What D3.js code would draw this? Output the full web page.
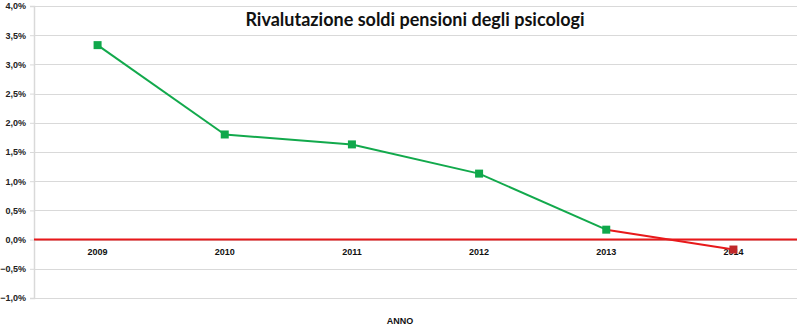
<!DOCTYPE html>
<html>
<head>
<meta charset="utf-8">
<script src="https://cdn.jsdelivr.net/npm/d3@7"></script>
<style>
  html, body { margin: 0; padding: 0; background: #fff; }
  svg { display: block; }
</style>
</head>
<body>
<svg id="chart" width="800" height="331"></svg>
<script>
// Yearly revaluation rate of psychologists' pensions (percent)
const years = ["2009", "2010", "2011", "2012", "2013", "2014"];
const rates = [3.33, 1.80, 1.63, 1.13, 0.17, -0.17];
const yTicks = [-1.0, -0.5, 0.0, 0.5, 1.0, 1.5, 2.0, 2.5, 3.0, 3.5, 4.0];
const titleText = "Rivalutazione soldi pensioni degli psicologi";
const axisTitle = "ANNO";

const W = 800, H = 331;
const margin = { top: 6, right: 3, bottom: 33, left: 34 };

const svg = d3.select("#chart");

const x = d3.scaleBand()
  .domain(years)
  .range([margin.left, W - margin.right]);

const y = d3.scaleLinear()
  .domain([-1.0, 4.0])
  .range([H - margin.bottom, margin.top]);

const fmt = v => d3.format(".1f")(v).replace(".", ",") + "%";

// horizontal gridlines
svg.append("g")
  .selectAll("line")
  .data(yTicks)
  .join("line")
  .attr("x1", margin.left)
  .attr("x2", W - margin.right)
  .attr("y1", d => Math.round(y(d)) + 0.5)
  .attr("y2", d => Math.round(y(d)) + 0.5)
  .attr("stroke", "#d9d9d9")
  .attr("stroke-width", 1.2);

// value axis
const yAxis = d3.axisLeft(y)
  .tickValues(yTicks)
  .tickFormat(fmt)
  .tickSize(4)
  .tickPadding(4);

const gy = svg.append("g")
  .attr("transform", `translate(${margin.left},0)`)
  .call(yAxis);
gy.select(".domain").attr("stroke", "#d9d9d9").attr("stroke-width", 1.5);
gy.selectAll(".tick line").attr("stroke", "#d9d9d9");
gy.selectAll(".tick text")
  .attr("fill", "#222")
  .style("font-family", "'Liberation Sans', Arial, sans-serif")
  .style("font-size", "9px")
  .style("font-weight", "bold");

// category labels sit just under the zero line
const xAxis = d3.axisBottom(x).tickSize(0).tickPadding(9);
const gx = svg.append("g")
  .attr("transform", `translate(0,${y(0)})`)
  .call(xAxis);
gx.select(".domain").remove();
gx.selectAll(".tick text")
  .attr("fill", "#111")
  .style("font-family", "'Liberation Sans', Arial, sans-serif")
  .style("font-size", "9px")
  .style("font-weight", "bold");

// zero reference line
svg.append("line")
  .attr("x1", margin.left)
  .attr("x2", W - margin.right)
  .attr("y1", y(0))
  .attr("y2", y(0))
  .attr("stroke", "#e8191b")
  .attr("stroke-width", 2);

// series segments: green while positive trend, red into the negative year
const pts = years.map((yr, i) => ({ yr, v: rates[i], cx: x(yr) + x.bandwidth() / 2, cy: y(rates[i]) }));
const green = "#12a94c";
const red = "#e8191b";

const segs = d3.pairs(pts);
svg.append("g")
  .selectAll("line")
  .data(segs)
  .join("line")
  .attr("x1", d => d[0].cx)
  .attr("y1", d => d[0].cy)
  .attr("x2", d => d[1].cx)
  .attr("y2", d => d[1].cy)
  .attr("stroke", d => d[1].v < 0 ? red : green)
  .attr("stroke-width", 2);

// square markers
const ms = 8;
svg.append("g")
  .selectAll("rect")
  .data(pts)
  .join("rect")
  .attr("x", d => d.cx - ms / 2)
  .attr("y", d => d.cy - ms / 2)
  .attr("width", ms)
  .attr("height", ms)
  .attr("fill", d => d.v < 0 ? "#c0282a" : "#10a84b");

// chart title
svg.append("text")
  .attr("x", 415)
  .attr("y", 26)
  .attr("text-anchor", "middle")
  .attr("fill", "#111")
  .style("font-family", "Lato, 'Open Sans', sans-serif")
  .style("font-size", "18px")
  .style("font-weight", "bold")
  .text(titleText);

// category axis title
svg.append("text")
  .attr("x", 400)
  .attr("y", 324)
  .attr("text-anchor", "middle")
  .attr("fill", "#111")
  .style("font-family", "'Liberation Sans', Arial, sans-serif")
  .style("font-size", "9px")
  .style("font-weight", "bold")
  .text(axisTitle);
</script>
</body>
</html>
